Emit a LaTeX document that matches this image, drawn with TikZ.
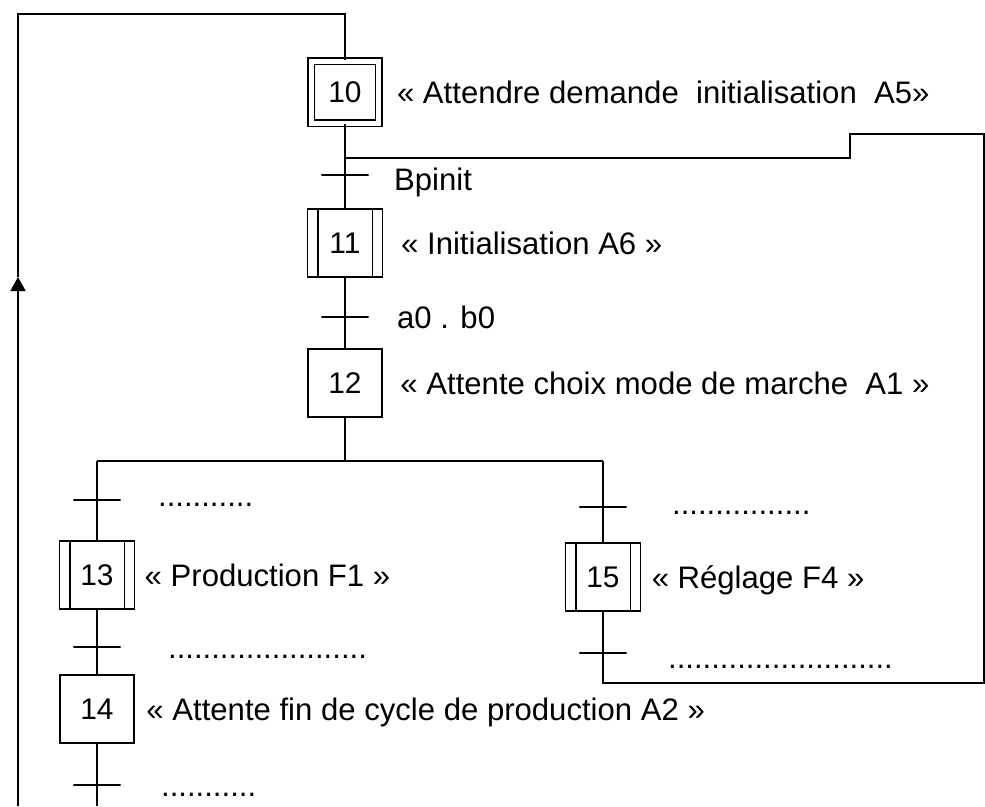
\documentclass[tikz,border=0pt]{standalone}
\usepackage{fontspec}
\setmainfont{Liberation Sans}
\usetikzlibrary{positioning,arrows.meta}

\begin{document}
\begin{tikzpicture}[
    x=0.02cm, y=-0.02cm,
    line width=1pt,
    >={Triangle[length=0.28cm,width=0.3cm]},
    stepbox/.style={
        draw,
        minimum width=1.47cm,
        minimum height=1.35cm,
        inner sep=0pt,
        font=\fontsize{17}{20}\selectfont
    },
    initstep/.style={
        stepbox,
        double,
        double distance=0.1cm,
        line width=0.8pt,
        minimum width=1.36cm,
        minimum height=1.24cm
    },
    macrostep/.style={
        stepbox,
        minimum width=1.5cm,
        minimum height=1.36cm,
        path picture={
            \draw ([xshift=0.21cm]path picture bounding box.north west) -- ([xshift=0.21cm]path picture bounding box.south west);
            \draw ([xshift=-0.2cm]path picture bounding box.north east) -- ([xshift=-0.2cm]path picture bounding box.south east);
        }
    },
    trans/.style={
        draw,
        minimum width=0.95cm,
        minimum height=0pt,
        inner sep=0pt,
        outer sep=0pt
    },
    txt/.style={
        font=\fontsize{17.7}{21}\selectfont,
        inner sep=0pt,
        text height=12.7pt,
        text depth=0pt,
        anchor=west
    }
]
\useasboundingbox (0,0) rectangle (985,806);

% Nodes - main sequence
\node[initstep] (s10) at (345,92) {10};
\node[trans] (t1) at (345,175) {};
\node[macrostep] (s11) at (345,243) {11};
\node[trans] (t2) at (345,317) {};
\node[stepbox] (s12) at (345,383) {12};

% Left branch
\node[trans] (t3) at (97,500) {};
\node[macrostep] (s13) at (97,575) {13};
\node[trans] (t4) at (97,647) {};
\node[stepbox] (s14) at (97,709) {14};
\node[trans] (t5) at (97,785) {};

% Right branch
\node[trans] (t6) at (603,507) {};
\node[macrostep] (s15) at (603,577) {15};
\node[trans] (t7) at (603,653) {};

% Actions
\node[txt, right=0.33cm of s10] (l10) {« Attendre demande~~initialisation~~A5»};
\node[txt, right=0.34cm of s11] (l11) {« Initialisation A6 »};
\node[txt, right=0.34cm of s12] (l12) {« Attente choix mode de marche~~A1 »};
\node[txt, right=0.17cm of s13] (l13) {« Production F1 »};
\node[txt, right=0.22cm of s14] (l14) {« Attente fin de cycle de production A2 »};
\node[txt, right=0.19cm of s15] (l15) {« Réglage F4 »};

% Receptivities
\node[txt, right=0.49cm of t1, yshift=-0.08cm] (r1) {Bpinit};
\node[txt, right=0.55cm of t2] (r2) {a0 . b0};
\node[txt, right=0.73cm of t3, yshift=0.1cm] (r3) {...........};
\node[txt, right=0.93cm of t4] (r4) {.......................};
\node[txt, right=0.79cm of t5] (r5) {...........};
\node[txt, right=0.89cm of t6, yshift=0.08cm] (r6) {................};
\node[txt, right=0.81cm of t7, yshift=-0.08cm] (r7) {..........................};

% Corners of the links
\coordinate (cTopL) at (18,14);
\coordinate (cBotL) at (18,806);
\coordinate (cArr) at (18,277);
\coordinate (cDivL) at (97,461);
\coordinate (cDivR) at (603,461);
\coordinate (cBotR) at (984,683);
\coordinate (cTopR) at (984,134);
\coordinate (cStepU) at (850,134);
\coordinate (cStepD) at (850,158);
\coordinate (cEnd14) at (97,806);

% Links
\draw (s10) -- (t1) -- (s11) -- (t2) -- (s12);
\draw (s12) -- (s12 |- cDivL);
\draw (cDivL) -- (cDivR);
\draw (cDivL) -- (t3) -- (s13) -- (t4) -- (s14) -- (t5) -- (cEnd14);
\draw (cDivR) -- (t6) -- (s15) -- (t7) -- (s15 |- cBotR) -- (cBotR) -- (cTopR) -- (cStepU) -- (cStepD) -- (s10 |- cStepD);
\draw[->] (cBotL) -- (cArr);
\draw (cArr) -- (cTopL) -- (s10 |- cTopL) -- (s10);

\end{tikzpicture}
\end{document}
